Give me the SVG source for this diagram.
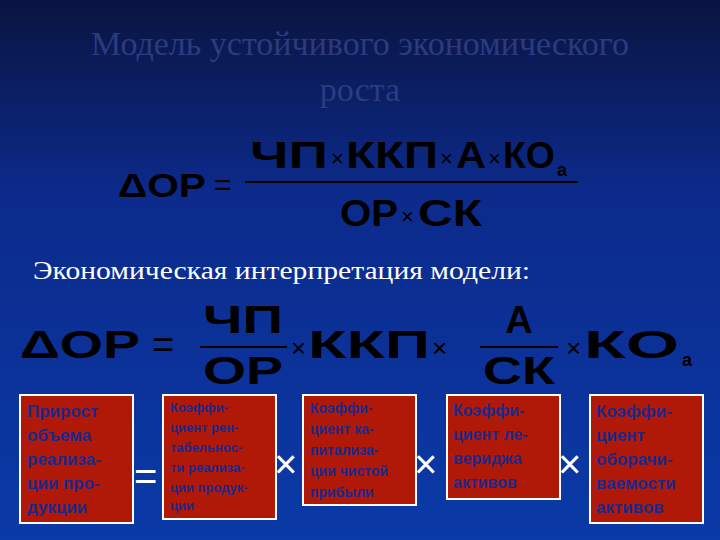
<svg xmlns="http://www.w3.org/2000/svg" width="720" height="540" viewBox="0 0 720 540">
<defs>
<linearGradient id="bg" x1="0" y1="0" x2="0" y2="1">
<stop offset="0" stop-color="#0a1440"/><stop offset="0.35" stop-color="#0c2a8a"/><stop offset="1" stop-color="#0a3aa8"/>
</linearGradient>
<style>
.f{font-family:"Liberation Sans",Arial,sans-serif;font-weight:bold;fill:#000}
.x{font-family:"Liberation Sans",Arial,sans-serif;font-weight:normal;fill:#000}
.box{fill:#b01808;stroke:#fff;stroke-width:2}
.bt{font-family:"Liberation Sans",Arial,sans-serif;font-weight:bold;fill:#1a2a8c}
.op{font-family:"Liberation Sans",Arial,sans-serif;fill:#fff;font-size:40px}
</style>
</defs>
<rect width="720" height="540" fill="url(#bg)"/>
<g id="title" font-family="'Liberation Serif',serif" font-size="34" fill="#2c3b80" text-anchor="middle">
<text x="360" y="55">Модель устойчивого экономического</text>
<text x="360" y="101">роста</text>
</g>
<g id="formula1">
<text class="f" x="118" y="197" font-size="34" textLength="88" lengthAdjust="spacingAndGlyphs">ΔОР</text>
<text class="x" x="214" y="195" font-size="30">=</text>
<line x1="245" y1="182" x2="578" y2="182" stroke="#000" stroke-width="2"/>
<text class="f" x="250" y="168" font-size="36" textLength="78" lengthAdjust="spacingAndGlyphs">ЧП</text>
<text class="x" x="331" y="166" font-size="22">×</text>
<text class="f" x="346" y="168" font-size="36" textLength="92" lengthAdjust="spacingAndGlyphs">ККП</text>
<text class="x" x="440" y="166" font-size="22">×</text>
<text class="f" x="456" y="168" font-size="36" textLength="30" lengthAdjust="spacingAndGlyphs">А</text>
<text class="x" x="488" y="166" font-size="22">×</text>
<text class="f" x="503" y="168" font-size="36" textLength="52" lengthAdjust="spacingAndGlyphs">КО</text>
<text class="f" x="557" y="176" font-size="18">а</text>
<text class="f" x="340" y="226" font-size="36" textLength="58" lengthAdjust="spacingAndGlyphs">ОР</text>
<text class="x" x="401" y="224" font-size="22">×</text>
<text class="f" x="418" y="226" font-size="36" textLength="64" lengthAdjust="spacingAndGlyphs">СК</text>
</g>
<text id="subtitle" x="33" y="279" font-family="'Liberation Serif',serif" font-size="25" fill="#fff" textLength="497" lengthAdjust="spacingAndGlyphs">Экономическая интерпретация модели:</text>
<g id="formula2">
<text class="f" x="20" y="358" font-size="38" textLength="120" lengthAdjust="spacingAndGlyphs">ΔОР</text>
<text class="x" x="152" y="358" font-size="38">=</text>
<line x1="200" y1="347" x2="287" y2="347" stroke="#000" stroke-width="2"/>
<text class="f" x="243" y="333" font-size="38" text-anchor="middle" textLength="80" lengthAdjust="spacingAndGlyphs">ЧП</text>
<text class="f" x="243" y="384" font-size="38" text-anchor="middle" textLength="80" lengthAdjust="spacingAndGlyphs">ОР</text>
<text class="x" x="291" y="357" font-size="26">×</text>
<text class="f" x="308" y="358" font-size="38" textLength="122" lengthAdjust="spacingAndGlyphs">ККП</text>
<text class="x" x="432" y="357" font-size="26">×</text>
<line x1="480" y1="347" x2="558" y2="347" stroke="#000" stroke-width="2"/>
<text class="f" x="519" y="333" font-size="38" text-anchor="middle">А</text>
<text class="f" x="519" y="384" font-size="38" text-anchor="middle" textLength="72" lengthAdjust="spacingAndGlyphs">СК</text>
<text class="x" x="566" y="357" font-size="26">×</text>
<text class="f" x="584" y="358" font-size="38" textLength="95" lengthAdjust="spacingAndGlyphs">КО</text>
<text class="f" x="682" y="366" font-size="18">а</text>
</g>
<g id="box1"><rect class="box" x="20" y="395" width="113" height="128"/>
<text class="bt" font-size="17"><tspan x="27" y="417">Прирост</tspan><tspan x="27" y="441">объема</tspan><tspan x="27" y="465">реализа-</tspan><tspan x="27" y="489">ции про-</tspan><tspan x="27" y="513">дукции</tspan></text></g>
<g id="box2"><rect class="box" x="163" y="395" width="113" height="124"/>
<text class="bt" font-size="13"><tspan x="170" y="412">Коэффи-</tspan><tspan x="170" y="432">циент рен-</tspan><tspan x="170" y="452">табельнос-</tspan><tspan x="170" y="472">ти реализа-</tspan><tspan x="170" y="492">ции продук-</tspan><tspan x="170" y="510">ции</tspan></text></g>
<g id="box3"><rect class="box" x="303" y="395" width="113" height="110"/>
<text class="bt" font-size="14"><tspan x="310" y="413">Коэффи-</tspan><tspan x="310" y="434">циент ка-</tspan><tspan x="310" y="455">питализа-</tspan><tspan x="310" y="476">ции чистой</tspan><tspan x="310" y="497">прибыли</tspan></text></g>
<g id="box4"><rect class="box" x="447" y="395" width="113" height="104"/>
<text class="bt" font-size="16"><tspan x="453" y="416">Коэффи-</tspan><tspan x="453" y="440">циент ле-</tspan><tspan x="453" y="464">вериджа</tspan><tspan x="453" y="488">активов</tspan></text></g>
<g id="box5"><rect class="box" x="590" y="395" width="113" height="128"/>
<text class="bt" font-size="17"><tspan x="596" y="417">Коэффи-</tspan><tspan x="596" y="441">циент</tspan><tspan x="596" y="465">оборачи-</tspan><tspan x="596" y="489">ваемости</tspan><tspan x="596" y="513">активов</tspan></text></g>
<g id="connectors">
<text class="op" x="134" y="490">=</text>
<text class="op" x="274" y="478">×</text>
<text class="op" x="414" y="478">×</text>
<text class="op" x="558" y="478">×</text>
</g>
</svg>
